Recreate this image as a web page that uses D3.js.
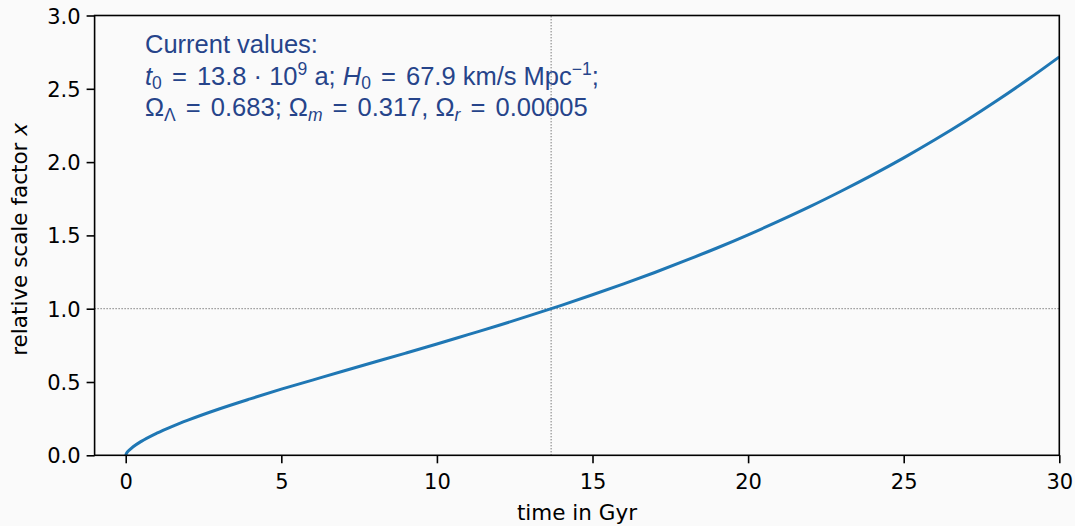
<!DOCTYPE html>
<html>
<head>
<meta charset="utf-8">
<script src="https://cdn.jsdelivr.net/npm/d3@7"></script>
<style>
  html, body { margin: 0; padding: 0; background: #fafafa; }
  svg { display: block; }
  .tick text { font-family: "DejaVu Sans", sans-serif; font-size: 21px; fill: #000; }
</style>
</head>
<body>
<svg id="chart" width="1075" height="526"></svg>
<script>
// ---- data ----
const timeGyr = [0, 0.02, 0.1, 0.25, 0.5, 1, 1.5, 2, 3, 4, 5, 6, 7, 8, 9, 10, 11, 12, 13, 14, 15,
                 16, 17, 18, 19, 20, 21, 22, 23, 24, 25, 26, 27, 28, 29, 30];
const scaleFactor = [0, 0.011, 0.0325, 0.060, 0.095, 0.151, 0.198, 0.240, 0.316, 0.385, 0.451, 0.513,
                     0.575, 0.636, 0.697, 0.759, 0.823, 0.887, 0.954, 1.023, 1.095,
                     1.169, 1.247, 1.329, 1.414, 1.504, 1.599, 1.698, 1.803, 1.913, 2.029,
                     2.152, 2.282, 2.420, 2.565, 2.718];
const xTicks = [0, 5, 10, 15, 20, 25, 30];
const yTicks = [0.0, 0.5, 1.0, 1.5, 2.0, 2.5, 3.0];
const xDomain = [-1, 30];
const yDomain = [0, 3];
const todayTime = 13.67;
const todayScale = 1.0;
const xLabel = "time in Gyr";
const yLabel = "relative scale factor ";
const yLabelVar = "x";

// ---- layout ----
const svg = d3.select("#chart");
const mLeft = 94.6, mRight = 1059.3, mTop = 15.5, mBottom = 455.3;

const x = d3.scaleLinear().domain(xDomain).range([mLeft, mRight]);
const y = d3.scaleLinear().domain(yDomain).range([mBottom, mTop]);

// reference lines (dotted)
svg.append("line")
  .attr("x1", x(xDomain[0])).attr("x2", x(xDomain[1]))
  .attr("y1", y(todayScale)).attr("y2", y(todayScale))
  .attr("stroke", "#444").attr("stroke-width", 1).attr("stroke-dasharray", "1,2");
svg.append("line")
  .attr("x1", x(todayTime)).attr("x2", x(todayTime))
  .attr("y1", y(yDomain[0])).attr("y2", y(yDomain[1]))
  .attr("stroke", "#444").attr("stroke-width", 1).attr("stroke-dasharray", "1,2");

// curve
const pts = timeGyr.map((t, i) => [t, scaleFactor[i]]);
svg.append("path")
  .datum(pts)
  .attr("fill", "none")
  .attr("stroke", "#1f77b4")
  .attr("stroke-width", 3)
  .attr("d", d3.line().x(d => x(d[0])).y(d => y(d[1])).curve(d3.curveMonotoneX));

// axes
const xAxis = svg.append("g")
  .attr("transform", `translate(0,${mBottom})`)
  .call(d3.axisBottom(x).tickValues(xTicks).tickFormat(d3.format("d")).tickSize(8).tickPadding(6));
const yAxis = svg.append("g")
  .attr("transform", `translate(${mLeft},0)`)
  .call(d3.axisLeft(y).tickValues(yTicks).tickFormat(d3.format(".1f")).tickSize(8).tickPadding(6));
[xAxis, yAxis].forEach(g => {
  g.select(".domain").remove();
  g.selectAll(".tick line").attr("stroke", "#000").attr("stroke-width", 1.6);
});
xAxis.selectAll(".tick text").attr("dy", "0.95em");
yAxis.selectAll(".tick text").attr("dy", "0.36em");

// frame
svg.append("rect")
  .attr("x", mLeft).attr("y", mTop).attr("width", mRight - mLeft).attr("height", mBottom - mTop)
  .attr("fill", "none").attr("stroke", "#000").attr("stroke-width", 1.6);

// axis labels
svg.append("text")
  .attr("x", (mLeft + mRight) / 2).attr("y", 520)
  .attr("text-anchor", "middle")
  .attr("font-family", "DejaVu Sans, sans-serif").attr("font-size", 21.5)
  .text(xLabel);
const yl = svg.append("text")
  .attr("transform", `translate(27,${(mTop + mBottom) / 2 + 4}) rotate(-90)`)
  .attr("text-anchor", "middle")
  .attr("font-family", "DejaVu Sans, sans-serif").attr("font-size", 21.5);
yl.append("tspan").text(yLabel);
yl.append("tspan").attr("font-style", "italic").text(yLabelVar);

// annotation
const ann = svg.append("text")
  .attr("font-family", "Liberation Sans, Arial, sans-serif")
  .attr("font-size", 25.5)
  .attr("fill", "#26448a");
const ax = 145;
const sub = 17.5;
ann.append("tspan").attr("x", ax).attr("y", 53).text("Current values:");
function seg(parent, txt, opts = {}) {
  const s = parent.append("tspan").text(txt);
  if (opts.italic) s.attr("font-style", "italic");
  if (opts.dy) s.attr("dy", opts.dy);
  if (opts.dx) s.attr("dx", opts.dx);
  if (opts.size) s.attr("font-size", opts.size);
  return s;
}
seg(ann, "t", {italic: true}).attr("x", ax).attr("y", 85);
seg(ann, "0", {dy: 4, size: sub});
seg(ann, " =", {dy: -4, dx: 3});
seg(ann, " 13.8 \u00B7 10", {dx: 3});
seg(ann, "9", {dy: -10, size: sub});
seg(ann, " a; ", {dy: 10});
seg(ann, "H", {italic: true});
seg(ann, "0", {dy: 4, size: sub});
seg(ann, " =", {dy: -4, dx: 3});
seg(ann, " 67.9 km/s Mpc", {dx: 3});
seg(ann, "\u22121", {dy: -10, size: sub});
seg(ann, ";", {dy: 10});
seg(ann, "\u03A9").attr("x", ax).attr("y", 116);
seg(ann, "\u039B", {dy: 5, size: sub});
seg(ann, " =", {dy: -5, dx: 3});
seg(ann, " 0.683; \u03A9", {dx: 3});
seg(ann, "m", {dy: 5, size: sub, italic: true});
seg(ann, " =", {dy: -5, dx: 3});
seg(ann, " 0.317, \u03A9", {dx: 3});
seg(ann, "r", {dy: 5, size: sub, italic: true});
seg(ann, " =", {dy: -5, dx: 3});
seg(ann, " 0.00005", {dx: 3});
</script>
</body>
</html>
